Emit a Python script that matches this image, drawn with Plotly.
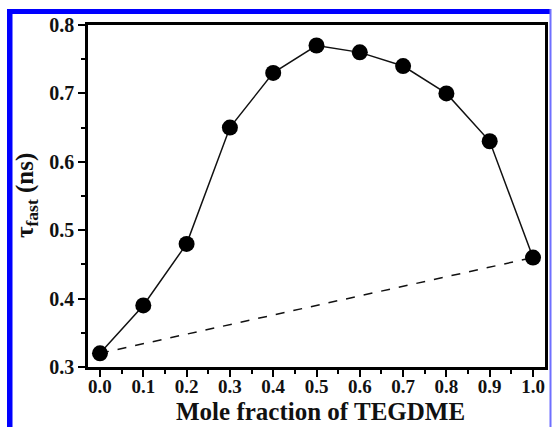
import plotly.graph_objects as go

# Mole fraction of TEGDME and the fast relaxation time
mole_fraction = [0.0, 0.1, 0.2, 0.3, 0.4, 0.5, 0.6, 0.7, 0.8, 0.9, 1.0]
tau_fast = [0.32, 0.39, 0.48, 0.65, 0.73, 0.77, 0.76, 0.74, 0.70, 0.63, 0.46]

# Ideal (linear) mixing line between the two pure components
ideal_x = [0.0, 1.0]
ideal_y = [0.32, 0.46]

x_ticks = [0.0, 0.1, 0.2, 0.3, 0.4, 0.5, 0.6, 0.7, 0.8, 0.9, 1.0]
y_ticks = [0.3, 0.4, 0.5, 0.6, 0.7, 0.8]

x_title = "Mole fraction of TEGDME"
y_title = "τ<sub>fast</sub> (ns)"

W, H = 552, 427
L, R, T, B = 88, 545, 25, 367  # plot area in pixels

fig = go.Figure()
fig.add_trace(go.Scatter(
    x=ideal_x, y=ideal_y, mode="lines",
    line=dict(color="#111", width=1.5, dash="dash"),
    hoverinfo="skip", showlegend=False,
))
fig.add_trace(go.Scatter(
    x=mole_fraction, y=tau_fast, mode="lines+markers",
    line=dict(color="#111", width=1.5),
    marker=dict(color="black", size=16),
    showlegend=False, cliponaxis=False,
))

font_family = "Liberation Serif, Times New Roman, serif"
axis_common = dict(
    showgrid=False, zeroline=False, automargin=False,
    showline=True, linecolor="black", linewidth=2.5, mirror=True,
    ticks="outside", ticklen=7, tickwidth=2, tickcolor="black",
)

fig.update_xaxes(
    **axis_common,
    range=[-0.0277, 1.0277],
    tickvals=x_ticks, ticktext=[f"{v:.1f}" for v in x_ticks],
    tickfont=dict(family=font_family, size=19, color="#111", weight="bold"),
    ticklabelstandoff=-7,
    minor=dict(ticks="outside", ticklen=4, tickwidth=2, tickcolor="black", dtick=0.05, tick0=0),
)
fig.update_yaxes(
    **axis_common,
    range=[0.3, 0.8],
    tickvals=y_ticks, ticktext=[f"{v:.1f}" for v in y_ticks],
    tickfont=dict(family=font_family, size=20, color="#111", weight="bold"),
    minor=dict(ticks="outside", ticklen=4, tickwidth=2, tickcolor="black", dtick=0.05, tick0=0.3),
)

pw, ph = R - L, B - T


def px(xp):
    return (xp - L) / pw


def py(yp):
    return (B - yp) / ph


# Axis titles placed in paper coordinates
annotations = [
    dict(text=x_title, xref="paper", yref="paper", x=px(320), y=py(411),
         xanchor="center", yanchor="middle", showarrow=False, borderpad=0,
         font=dict(family=font_family, size=25, color="#111", weight="bold")),
    dict(text=y_title, xref="paper", yref="paper", x=px(26), y=py(196),
         xanchor="center", yanchor="middle", showarrow=False, textangle=-90,
         font=dict(family=font_family, size=25, color="#111", weight="bold")),
]

# Blue frame around the figure
frame = [
    (7, 12.5, 9, 440, "#0000ff"),      # left bar
    (7, 551, 9, 14, "#0000ff"),        # top bar
    (549.5, 551.5, 9, 440, "#6f6fff"),  # thin right edge
]
shapes = []
for x0, x1, y0, y1, c in frame:
    shapes.append(dict(type="rect", xref="paper", yref="paper",
                       x0=px(x0), x1=px(x1), y0=py(y1), y1=py(y0),
                       fillcolor=c, line=dict(width=0), layer="above"))

fig.update_layout(
    width=W, height=H,
    margin=dict(l=L, r=W - R, t=T, b=H - B),
    paper_bgcolor="white", plot_bgcolor="white",
    shapes=shapes, annotations=annotations,
)

fig.write_html("out.html")
